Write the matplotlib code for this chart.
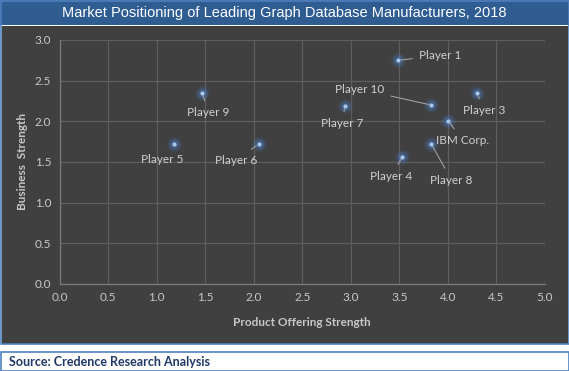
import matplotlib
matplotlib.use("Agg")
import matplotlib.pyplot as plt
from matplotlib.patches import Rectangle
import numpy as np

players = ["Player 1", "Player 10", "Player 3", "Player 7", "IBM Corp.",
           "Player 8", "Player 4", "Player 9", "Player 5", "Player 6"]
product_strength = [3.49, 3.83, 4.30, 2.94, 4.00, 3.83, 3.53, 1.47, 1.18, 2.05]
business_strength = [2.75, 2.20, 2.35, 2.19, 2.01, 1.72, 1.56, 2.35, 1.72, 1.72]
# label offsets in pixels (dx, dy), and whether a leader line is drawn
label_offsets = [(42, 5), (-72, 16), (7, -18), (-3, -18), (15, -20),
                 (20, -36), (-11, -19), (6, -20), (-12, -15), (-22, -16)]
leader = [True, True, True, True, True, True, True, True, False, True]

x_ticks = np.arange(0, 5.01, 0.5)
y_ticks = np.arange(0, 3.01, 0.5)

plt.rcParams["font.family"] = ["Lato", "DejaVu Sans"]

W, H = 569, 371
fig = plt.figure(figsize=(W / 100, H / 100), dpi=100)
fig.patch.set_facecolor("white")

blue = "#2F5D92"
dark = "#404040"
txt = "#C8C8C8"

def px_rect(x0, y0, x1, y1, **kw):
    fig.patches.append(Rectangle((x0 / W, 1 - y1 / H), (x1 - x0) / W, (y1 - y0) / H,
                                 transform=fig.transFigure, figure=fig, zorder=-5, **kw))

# title bar
px_rect(0, 0, W, 25, facecolor=blue, edgecolor="none")
# dark panel
px_rect(1.5, 26, W - 1.5, 344, facecolor=dark, edgecolor="none")
# outer borders
px_rect(0.5, 0.5, W - 0.5, 344, facecolor="none", edgecolor="#4F81BD", linewidth=1.2)
px_rect(0.5, 352, W - 0.5, H - 0.5, facecolor="none", edgecolor="#4F81BD", linewidth=1.2)

fig.text(0.5, 1 - 12.5 / H, "Market Positioning of Leading Graph Database Manufacturers, 2018",
         ha="center", va="center", color="white", fontsize=10.5, family="Liberation Sans")
fig.text(9 / W, 1 - 362 / H, "Source: Credence Research Analysis", ha="left", va="center",
         color="#1F3864", fontsize=9, fontweight="bold")

ax = fig.add_axes([59.5 / W, 1 - 284 / H, (545 - 59.5) / W, (284 - 40) / H])
ax.set_zorder(2)
ax.set_facecolor(dark)
ax.set_xlim(0, 5)
ax.set_ylim(0, 3)
ax.set_xticks(x_ticks)
ax.set_yticks(y_ticks)
ax.set_xticklabels([f"{v:.1f}" for v in x_ticks])
ax.set_yticklabels([f"{v:.1f}" for v in y_ticks])
ax.grid(True, color="#5E5E5E", linewidth=0.9)
ax.set_axisbelow(True)
for s in ["top", "right"]:
    ax.spines[s].set_visible(False)
for s in ["left", "bottom"]:
    ax.spines[s].set_color("#7A7A7A")
    ax.spines[s].set_linewidth(0.9)
ax.tick_params(length=0, colors=txt, labelsize=8.5, pad=6)

ax.set_xlabel("Product Offering Strength", color=txt, fontsize=8.5,
              fontweight="bold", labelpad=10)
ax.set_ylabel("Business  Strength", color=txt, fontsize=8.5,
              fontweight="bold", labelpad=5)

# glow + dots
for size, alpha in [(120, 0.10), (75, 0.18), (40, 0.3)]:
    ax.scatter(product_strength, business_strength, s=size, color="#4A7CC7",
               alpha=alpha, linewidths=0, zorder=3)
ax.scatter(product_strength, business_strength, s=9, color="#A9C8EC",
           linewidths=0, zorder=4)

for name, x, y, (dx, dy), ld in zip(players, product_strength, business_strength,
                                    label_offsets, leader):
    ax.annotate(name, (x, y), xytext=(dx, dy), textcoords="offset pixels",
                ha="center", va="center", color="#D0D0D0", fontsize=8.5,
                arrowprops=dict(arrowstyle="-", color="#A0A0A0", lw=0.8,
                                shrinkA=3, shrinkB=2) if ld else None,
                zorder=5)

fig.savefig("out.png", dpi=100, facecolor=fig.get_facecolor())
